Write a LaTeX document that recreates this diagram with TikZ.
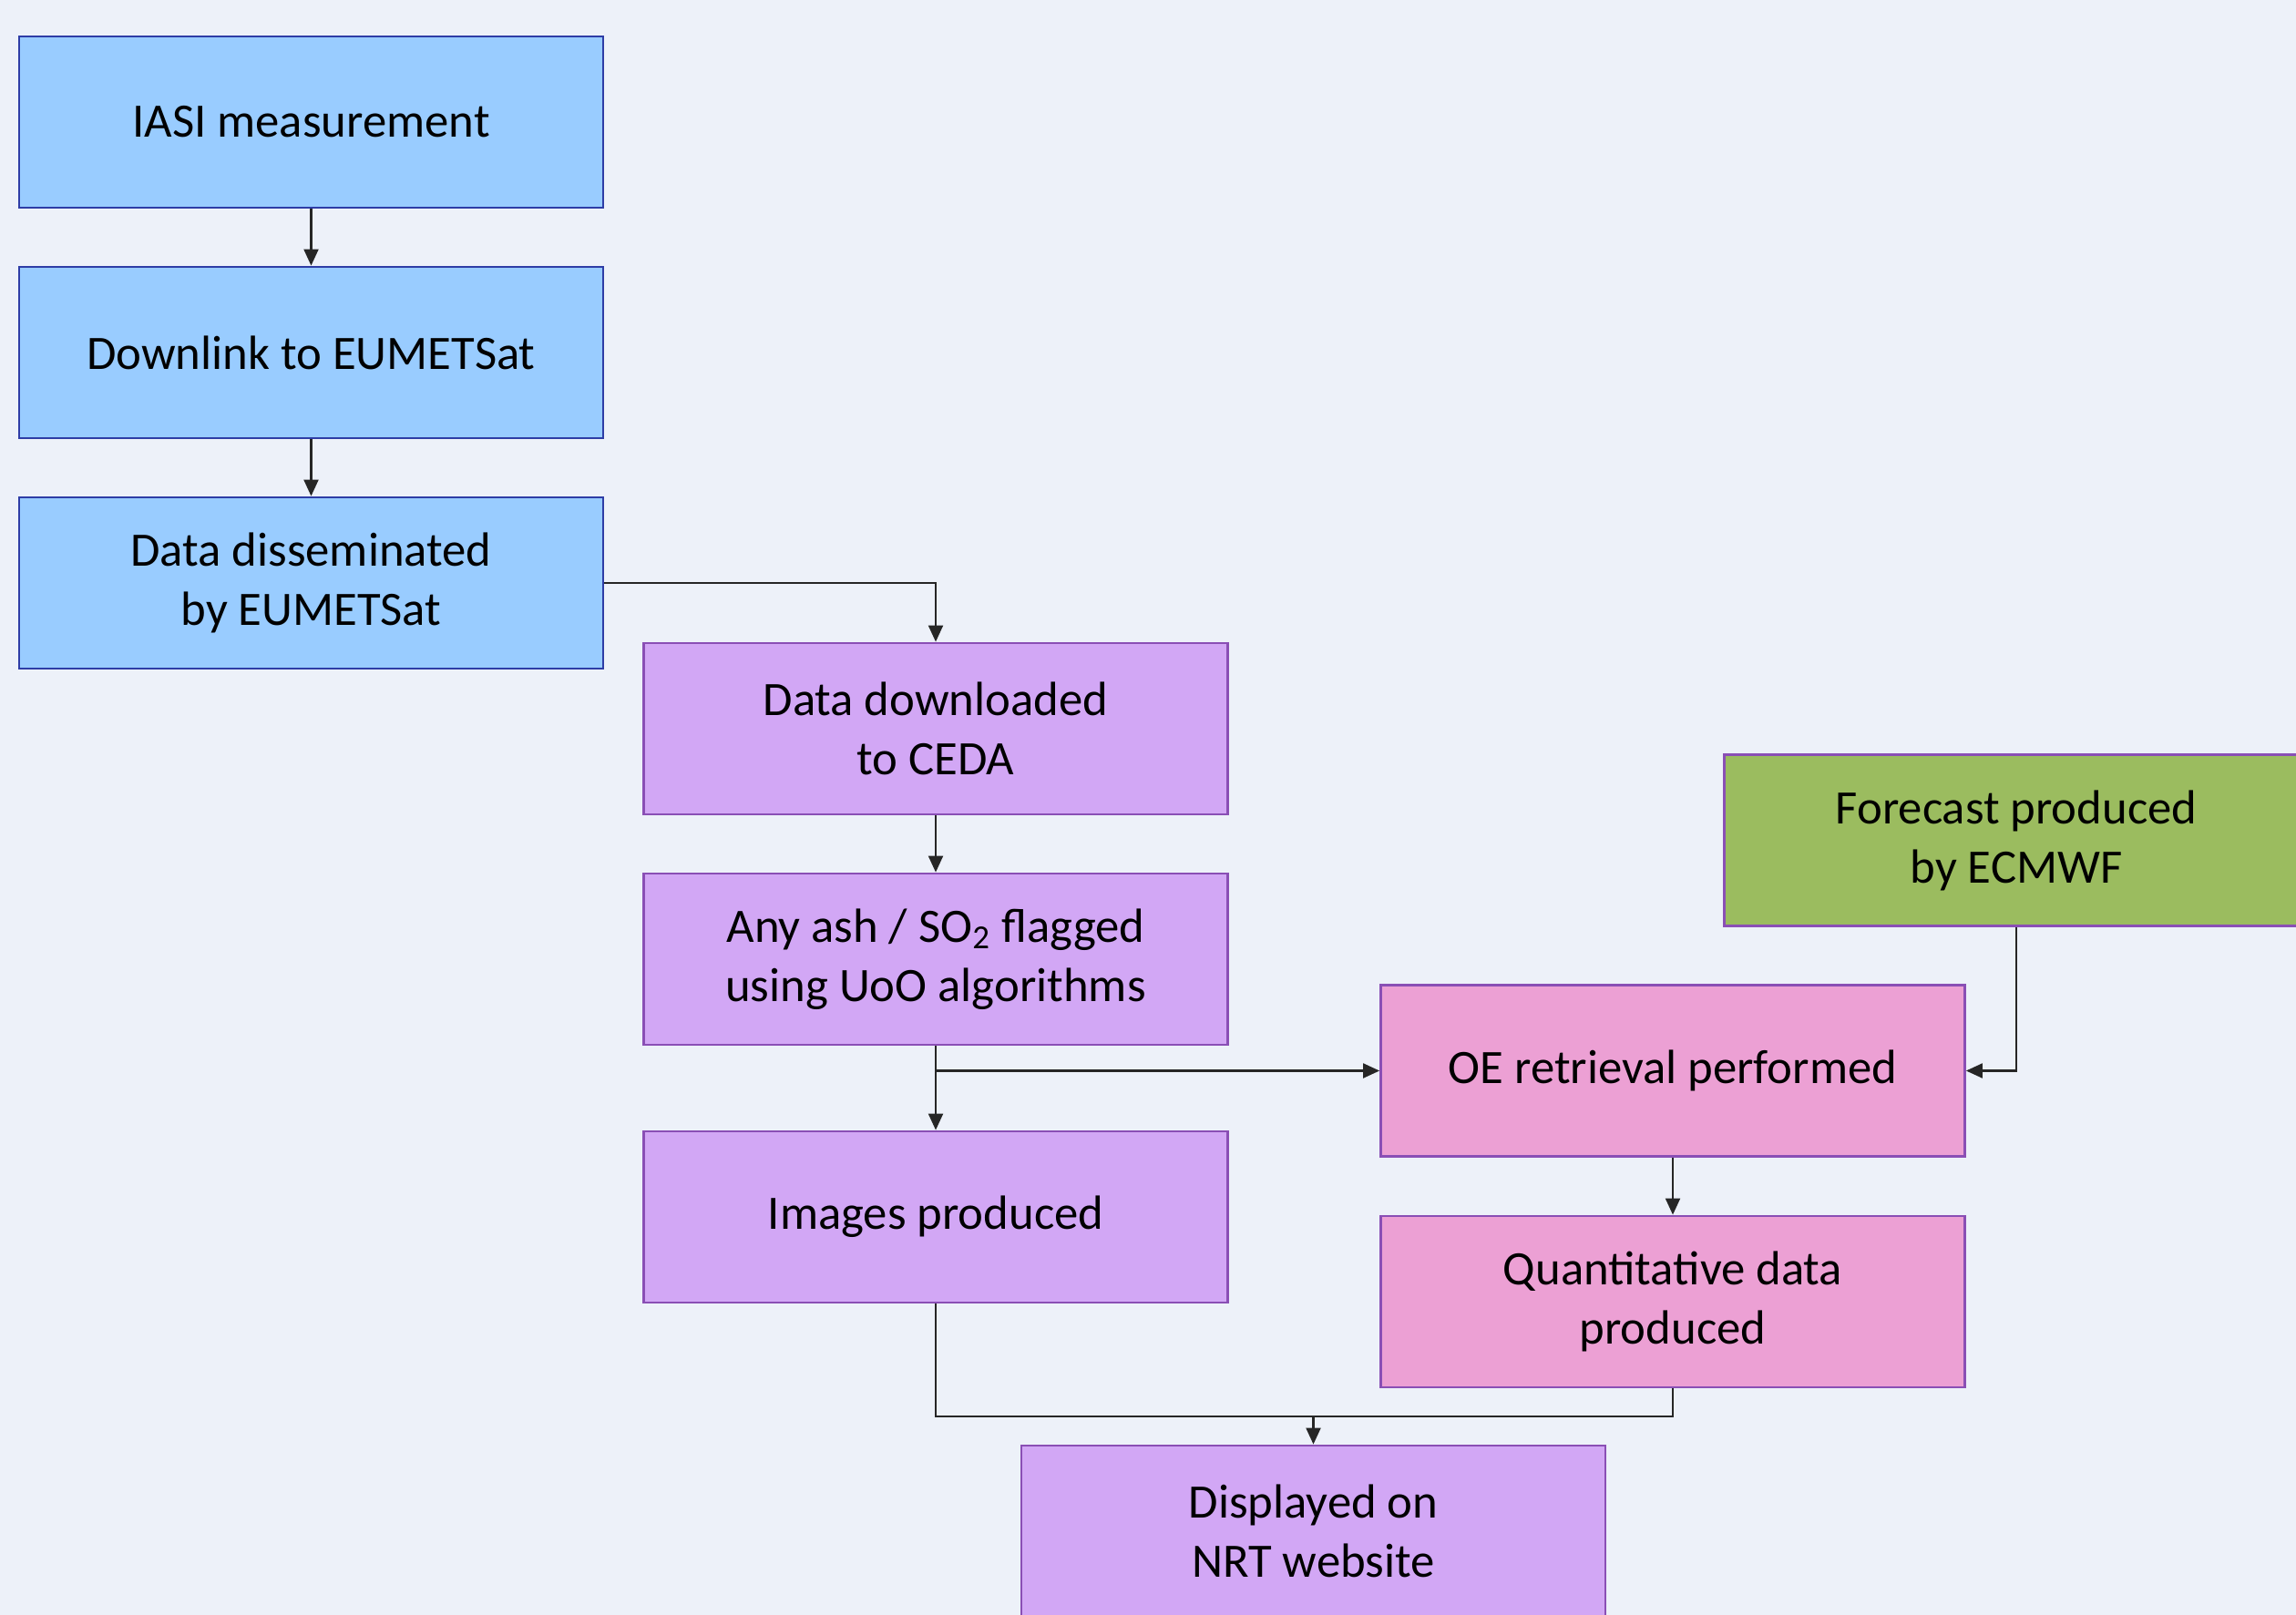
\documentclass[tikz,border=0pt]{standalone}
\usepackage{fontspec}
\setmainfont{Carlito}
\usepackage{tikz}
\usetikzlibrary{arrows.meta,positioning,calc}
\definecolor{Bg}{HTML}{EDF1F9}
\definecolor{Sky}{HTML}{99CCFF}
\definecolor{SkyLine}{HTML}{2E3DA6}
\definecolor{Lilac}{HTML}{D2A7F5}
\definecolor{Rose}{HTML}{ECA0D4}
\definecolor{Olive}{HTML}{9BBC5F}
\definecolor{Plum}{HTML}{8A4FB5}
\tikzset{
  >={Triangle[length=1.8mm,width=1.6mm]},
  box/.style={rectangle,draw,line width=.8pt,minimum width=6.41cm,minimum height=1.88cm,
    align=center,font=\fontsize{15}{18.5}\selectfont,inner sep=2pt},
  sat/.style={box,fill=Sky,draw=SkyLine},
  proc/.style={box,fill=Lilac,draw=Plum},
  oe/.style={box,fill=Rose,draw=Plum},
  ext/.style={box,fill=Olive,draw=Plum},
  link/.style={line width=.6pt,draw=black!85},
  arr/.style={link,->}
}
\begin{document}
\begin{tikzpicture}[x=1cm,y=1cm]
    \fill[Bg] (0,0) rectangle (25.2,-17.73);
    \useasboundingbox (0,0) rectangle (25.2,-17.73);
    % satellite chain
    \node[sat] (iasi) at (3.415,-1.34) {IASI measurement};
    \node[sat] (down) at (3.415,-3.87) {Downlink to EUMETSat};
    \node[sat] (dissem) at (3.415,-6.40) {Data disseminated\\by EUMETSat};
    % processing at CEDA
    \node[proc] (ceda) at (10.27,-8.00) {Data downloaded\\to CEDA};
    \node[proc] (flag) at (10.27,-10.53) {Any ash / SO\textsubscript{2} flagged\\using UoO algorithms};
    \node[proc] (img) at (10.27,-13.36) {Images produced};
    \node[proc] (nrt) at (14.415,-16.81) {Displayed on\\NRT website};
    % retrieval branch
    \node[ext] (fc) at (22.13,-9.225) {Forecast produced\\by ECMWF};
    \node[oe] (ret) at (18.36,-11.755) {OE retrieval performed};
    \node[oe] (quant) at (18.36,-14.29) {Quantitative data\\produced};
    \coordinate (split) at (flag.south |- ret.west);
    \coordinate (join) at ($(nrt.north)+(0,.31)$);
    \draw[arr] (iasi) -- (down);
    \draw[arr] (down) -- (dissem);
    \draw[arr] (dissem.east) -| (ceda.north);
    \draw[arr] (ceda) -- (flag);
    \draw[arr] (flag) -- (img);
    \draw[arr] (split) -- (ret.west);
    \draw[arr] (fc.south) |- (ret.east);
    \draw[arr] (ret) -- (quant);
    \draw[link] (img.south) |- (join);
    \draw[link] (quant.south) |- (join);
    \draw[arr] (join) -- (nrt.north);
  \end{tikzpicture}
\end{document}
